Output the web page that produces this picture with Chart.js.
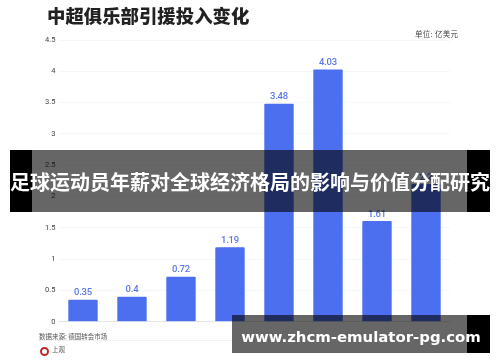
<!DOCTYPE html>
<html>
<head>
<meta charset="utf-8">
<script src="https://cdn.jsdelivr.net/npm/chart.js@4/dist/chart.umd.min.js"></script>
<style>
  html, body { margin: 0; padding: 0; background: #fff; }
  #wrap { position: relative; width: 500px; height: 362px; overflow: hidden; font-family: "Noto Sans CJK SC", sans-serif; }
  #chart { position: absolute; left: 0; top: 0; }
  .txt { position: absolute; white-space: nowrap; }
  #title { left: 47px; top: 1px; font-size: 18.4px; line-height: 28px; font-weight: 900; color: #222; }
  #unit { left: 415px; top: 28px; font-size: 7.5px; line-height: 12px; color: #444; letter-spacing: 0.3px; }
  #source { left: 39px; top: 330px; font-size: 6.5px; line-height: 12px; color: #555; }
  #rule { position: absolute; left: 39px; top: 340px; width: 193px; height: 1px; background: #f1f2f4; }
  #logo { left: 40px; top: 347px; width: 5px; height: 5px; border: 2.5px solid #c0272d; border-radius: 50%; box-sizing: content-box; position: absolute; }
  #logotext { left: 52px; top: 344px; font-size: 6.5px; line-height: 10px; color: #555; }
  .band { position: absolute; background: #000; }
  .shade { position: absolute; background: rgba(0,0,0,0.6); }
  #headline { left: 10px; width: 480px; top: 167px; text-align: center; font-size: 20px; line-height: 30px; font-weight: 700; color: #fff; }
  #site { left: 232px; width: 258px; top: 325px; padding-right: 1px; text-align: center; font-family: "DejaVu Sans", sans-serif; font-size: 14.9px; line-height: 24px; font-weight: 700; color: #fff; }
</style>
</head>
<body>
<div id="wrap">
  <canvas id="chart" width="500" height="362"></canvas>
  <div class="txt" id="title">中超俱乐部引援投入变化</div>
  <div class="txt" id="unit">单位: 亿美元</div>
  <div class="txt" id="source">数据来源: 德国转会市场</div>
  <div id="rule"></div>
  <div id="logo"></div>
  <div class="txt" id="logotext">上观</div>
  <div class="band" style="left:10px;top:150px;width:22px;height:62px"></div>
  <div class="band" style="left:467px;top:150px;width:23px;height:62px"></div>
  <div class="shade" style="left:32px;top:150px;width:435px;height:62px"></div>
  <div class="band" style="left:467px;top:315px;width:23px;height:38px"></div>
  <div class="shade" style="left:232px;top:315px;width:235px;height:38px"></div>
  <div class="txt" id="headline">足球运动员年薪对全球经济格局的影响与价值分配研究</div>
  <div class="txt" id="site">www.zhcm-emulator-pg.com</div>
</div>
<script>
const years = ["2012", "2013", "2014", "2015", "2016", "2017", "2018", "2019"];
const spending = [0.35, 0.4, 0.72, 1.19, 3.48, 4.03, 1.61, 2.2];
const yTicks = [0, 0.5, 1, 1.5, 2, 2.5, 3, 3.5, 4, 4.5];

// value labels above the bars
const barLabels = {
  id: "barLabels",
  afterDatasetsDraw(chart) {
    const ctx = chart.ctx;
    ctx.save();
    ctx.font = "500 9.5px Roboto, sans-serif";
    ctx.letterSpacing = "-0.2px";
    ctx.fillStyle = "#5b78e6";
    ctx.textAlign = "center";
    ctx.textBaseline = "bottom";
    chart.getDatasetMeta(0).data.forEach((bar, i) => {
      ctx.fillText(String(spending[i]), bar.x, bar.y - 2);
    });
    ctx.restore();
  }
};

new Chart(document.getElementById("chart"), {
  type: "bar",
  data: {
    labels: years,
    datasets: [{
      data: spending,
      backgroundColor: "#4b6fef",
      borderRadius: 1,
      categoryPercentage: 0.6,
      barPercentage: 1
    }]
  },
  options: {
    responsive: false,
    animation: false,
    layout: { padding: { left: 0, top: 40, right: 49.5, bottom: 30.3 } },
    plugins: { legend: { display: false }, tooltip: { enabled: false } },
    scales: {
      x: {
        afterFit(axis) { axis.height = 10; },
        grid: { display: false },
        border: { color: "#e4e6ea" },
        ticks: { color: "#333", font: { size: 6.5, family: "Roboto, sans-serif" }, padding: 3, maxRotation: 0 }
      },
      y: {
        min: 0,
        max: 4.5,
        afterFit(axis) { axis.width = 58.5; },
        afterBuildTicks(axis) { axis.ticks = yTicks.map(v => ({ value: v })); },
        grid: { color: "#f6f7f8", drawTicks: false },
        border: { display: false },
        ticks: {
          color: "#444",
          font: { size: 7.5, family: "Roboto, sans-serif" },
          padding: 3,
          callback: v => String(v)
        }
      }
    }
  },
  plugins: [barLabels]
});
</script>
</body>
</html>
